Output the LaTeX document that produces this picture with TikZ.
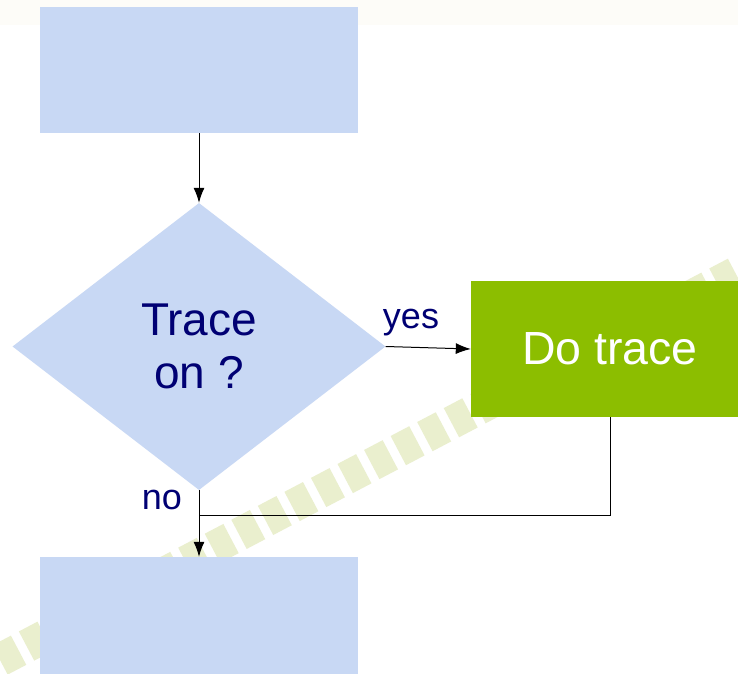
\documentclass[tikz,border=0pt]{standalone}
\usepackage{fontspec}
\setmainfont{Liberation Sans}
\usetikzlibrary{shapes.geometric,arrows.meta}
\definecolor{boxblue}{RGB}{200,216,244}
\definecolor{dogreen}{RGB}{140,190,0}
\definecolor{navytext}{RGB}{0,0,115}
\definecolor{wmark}{RGB}{234,239,206}
\definecolor{topstrip}{RGB}{253,252,248}
\begin{document}
\begin{tikzpicture}[x=1pt,y=1pt,
  blankbox/.style={rectangle, fill=boxblue, minimum width=318pt, minimum height=126pt, inner sep=0pt},
  decision/.style={diamond, fill=boxblue, minimum width=373pt, minimum height=287pt, inner sep=0pt,
    align=center, text=navytext, font=\fontsize{46}{53}\selectfont},
  actionbox/.style={rectangle, fill=dogreen, minimum width=278pt, minimum height=136pt, inner sep=0pt,
    text=white, font=\fontsize{46.5}{53}\selectfont},
  lbl/.style={text=navytext, font=\fontsize{36}{40}\selectfont, anchor=base, inner sep=0pt},
  conn/.style={line width=1pt, draw=black},
  arr/.style={conn, -{Latex[length=15pt,width=11pt]}}
]
\useasboundingbox (0,0) rectangle (738,673);
\clip (0,0) rectangle (738,673);
\fill[white] (0,0) rectangle (738,673);
\fill[topstrip] (0,648) rectangle (738,673);
% watermark band
\draw[wmark, line width=33pt, dash pattern=on 21pt off 9pt] (0,13) -- (738,401);

\node[blankbox] (top) at (199,603) {};
\node[decision] (dec) at (199,326.5) {Trace\\on ?};
\node[actionbox] (do) at (610,324) {Do trace};
\node[blankbox] (bot) at (199,53) {};
\coordinate (join) at (199,158);

\draw[arr] (top.south) -- (dec.north);
\draw[arr] (dec.east) -- (do.west);
\draw[arr] (dec.south) -- (bot.north);
\draw[conn] (do.south) |- (join);

\node[lbl] (yes) at (411,345) {yes};
\node[lbl] (no) at (162,164) {no};
\end{tikzpicture}
\end{document}
